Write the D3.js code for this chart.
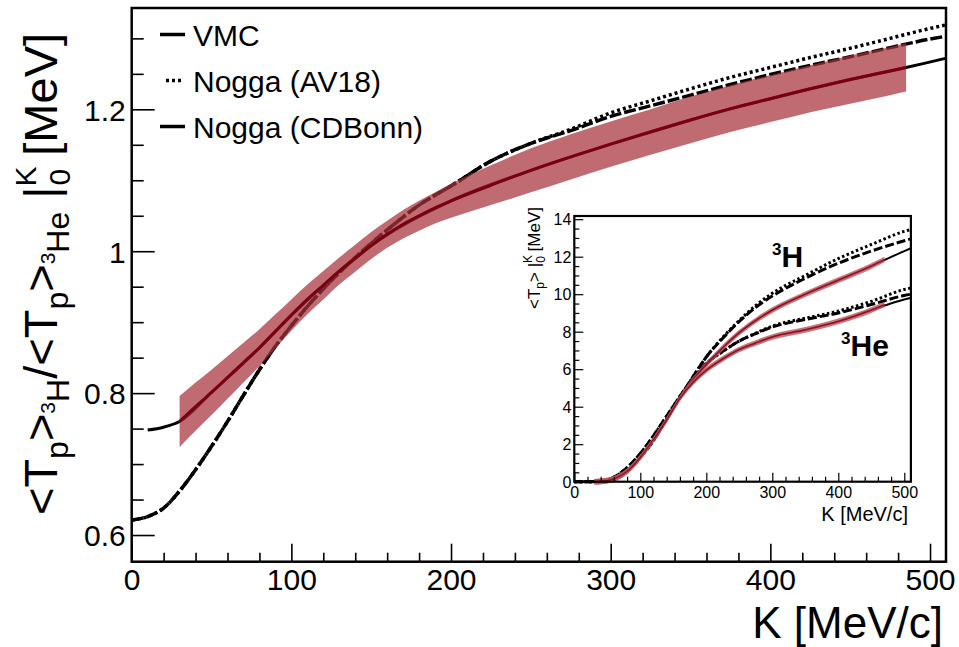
<!DOCTYPE html>
<html><head><meta charset="utf-8">
<script src="https://cdn.jsdelivr.net/npm/d3@7"></script>
<style>
body{margin:0;background:#fff}
svg{display:block}
text{font-family:"Liberation Sans",Arial,Helvetica,sans-serif;fill:#000}
</style>
</head><body>
<svg id="c" width="959" height="647"></svg>
<script>
// ---------------- DATA (main panel: ratio 3H / 3He) ----------------
const kNogga      = [0,10,20,30,40,50,60,70,80,90,100,110,120,140,160,180,200,225,250,275,300,325,350,375,400,425,450,475,500,510];
const ratioCDBonn = [0.621,0.626,0.638,0.662,0.692,0.725,0.760,0.797,0.833,0.866,0.895,0.922,0.947,0.991,1.030,1.065,1.092,1.127,1.152,1.170,1.190,1.205,1.220,1.235,1.249,1.262,1.274,1.287,1.299,1.303];
const ratioAV18   = [0.621,0.626,0.638,0.662,0.692,0.725,0.760,0.797,0.833,0.866,0.895,0.922,0.947,0.991,1.030,1.065,1.092,1.127,1.152,1.172,1.195,1.212,1.229,1.245,1.259,1.273,1.286,1.300,1.314,1.319];

const kVMC     = [10,20,30,50,80,100,120,150,200,250,300,350,400,450,485,495,510];
const ratioVMC = [0.748,0.752,0.760,0.801,0.864,0.910,0.952,1.008,1.071,1.114,1.151,1.185,1.215,1.242,1.259,1.264,1.272];

const kData     = [30,40,50,60,70,80,90,100,110,120,130,140,150,160,170,180,190,200,225,250,275,300,325,350,375,400,425,450,475,485];
const ratioData = [0.760,0.781,0.801,0.822,0.843,0.864,0.887,0.910,0.932,0.952,0.972,0.990,1.008,1.024,1.038,1.050,1.061,1.071,1.093,1.114,1.133,1.151,1.168,1.185,1.201,1.215,1.229,1.242,1.254,1.259];
const ratioErr  = [0.036,0.034,0.032,0.030,0.028,0.026,0.024,0.022,0.021,0.020,0.019,0.019,0.019,0.019,0.020,0.021,0.022,0.024,0.028,0.031,0.032,0.032,0.032,0.033,0.033,0.033,0.033,0.034,0.034,0.034];

const legendLabels = ["VMC","Nogga (AV18)","Nogga (CDBonn)"];
const xTicksMain = [0,100,200,300,400,500];
const yTicksMain = [0.6,0.8,1.0,1.2];

// ---------------- DATA (inset: <Tp> integrated up to K) ----------------
const kInset     = [0,20,40,50,60,80,100,120,140,160,180,200,225,250,275,300,350,400,450,500,510];
const h3CDBonn   = [0,0,0.02,0.07,0.18,0.60,1.30,2.20,3.35,4.50,5.60,6.65,7.65,8.55,9.30,9.90,10.85,11.65,12.30,12.85,12.95];
const h3AV18     = [0,0,0.02,0.07,0.18,0.60,1.30,2.20,3.35,4.50,5.60,6.65,7.70,8.60,9.40,10.05,11.00,11.90,12.65,13.35,13.45];
const he3CDBonn  = [0,0,0.03,0.10,0.24,0.75,1.50,2.45,3.50,4.55,5.50,6.30,6.95,7.50,7.90,8.25,8.65,9.00,9.45,9.93,10.00];
const he3AV18    = [0,0,0.03,0.10,0.24,0.75,1.50,2.45,3.50,4.55,5.50,6.30,6.95,7.50,7.92,8.30,8.72,9.10,9.62,10.25,10.33];
const h3VMC      = [0,0,0.02,0.06,0.16,0.56,1.30,2.25,3.30,4.45,5.45,6.25,7.15,7.95,8.60,9.15,10.00,10.75,11.50,12.30,12.45];
const he3VMC     = [0,0,0.02,0.06,0.15,0.55,1.30,2.25,3.30,4.45,5.30,5.95,6.55,7.05,7.40,7.72,8.10,8.55,9.15,9.72,9.80];

const kInsetData = [30,40,50,60,80,100,120,140,160,180,200,225,250,275,300,350,400,450,470];
const h3Data     = [0,0.02,0.06,0.16,0.56,1.30,2.25,3.30,4.45,5.45,6.25,7.15,7.95,8.60,9.15,10.00,10.75,11.50,11.85];
const he3Data    = [0,0.02,0.06,0.15,0.55,1.30,2.25,3.30,4.45,5.30,5.95,6.55,7.05,7.40,7.72,8.10,8.55,9.15,9.45];
const insetErr   = 0.15;
const xTicksInset = [0,100,200,300,400,500];
const yTicksInset = [0,2,4,6,8,10,12,14];

// ---------------- DRAWING ----------------
const svg = d3.select("#c");
const FONT = '"Liberation Sans",Arial,Helvetica,sans-serif';
const M = {l:131.7, r:946, t:8, b:561.7};
const x = d3.scaleLinear().domain([0,510]).range([M.l,M.r]);
const y = d3.scaleLinear().domain([0.5624,1.3428]).range([M.b,M.t]);

const zip = (ks, vs) => ks.map((k,i)=>({k, v:vs[i]}));
const line = (sx, sy) => d3.line().x(d=>sx(d.k)).y(d=>sy(d.v)).curve(d3.curveMonotoneX);

const gPlot = svg.append("g");
// Nogga curves
gPlot.append("path").datum(zip(kNogga, ratioCDBonn)).attr("d", line(x,y))
  .attr("fill","none").attr("stroke","#000").attr("stroke-width",3.5).attr("stroke-dasharray","12,3");
gPlot.append("path").datum(zip(kNogga, ratioAV18)).attr("d", line(x,y))
  .attr("fill","none").attr("stroke","#000").attr("stroke-width",3.5).attr("stroke-dasharray","3,3");
// VMC
gPlot.append("path").datum(zip(kVMC, ratioVMC)).attr("d", line(x,y))
  .attr("fill","none").attr("stroke","#000").attr("stroke-width",3);
// data band
const bandData = kData.map((k,i)=>({k, v:ratioData[i], e:ratioErr[i]}));
gPlot.append("path").datum(bandData)
  .attr("d", d3.area().x(d=>x(d.k)).y0(d=>y(d.v-d.e)).y1(d=>y(d.v+d.e)).curve(d3.curveMonotoneX))
  .attr("fill","#a8323b").attr("fill-opacity",0.72);
gPlot.append("path").datum(bandData).attr("d", line(x,y))
  .attr("fill","none").attr("stroke","#7a0010").attr("stroke-width",3);

// axes
function cleanAxis(g, fs){
  g.select(".domain").remove();
  g.selectAll(".tick line").attr("stroke","#000").attr("stroke-width",1.6);
  g.attr("font-family", FONT).attr("font-size", fs);
}
const gx = svg.append("g").attr("transform",`translate(0,${M.b})`)
  .call(d3.axisBottom(x).tickValues(xTicksMain).tickSizeInner(-18).tickSizeOuter(0).tickFormat(d3.format("d")));
cleanAxis(gx, 30);
gx.selectAll(".tick text").attr("y",28.5).attr("dy",0).attr("fill","#000");
const gxm = svg.append("g").attr("transform",`translate(0,${M.b})`)
  .call(d3.axisBottom(x).tickValues(d3.range(0,511,20).filter(v=>v%100)).tickSizeInner(-9).tickSizeOuter(0).tickFormat(""));
cleanAxis(gxm, 30);

const gy = svg.append("g").attr("transform",`translate(${M.l},0)`)
  .call(d3.axisLeft(y).tickValues(yTicksMain).tickSizeInner(-23).tickSizeOuter(0).tickFormat(d=>d===1?"1":d.toFixed(1)));
cleanAxis(gy, 30);
gy.selectAll(".tick text").attr("x",-6).attr("dy","0.36em").attr("fill","#000");
const gym = svg.append("g").attr("transform",`translate(${M.l},0)`)
  .call(d3.axisLeft(y).tickValues(d3.range(0.6,1.34,0.05).filter(v=>Math.abs(v*5-Math.round(v*5))>1e-6)).tickSizeInner(-12).tickSizeOuter(0).tickFormat(""));
cleanAxis(gym, 30);

// frame
svg.append("rect").attr("x",M.l).attr("y",M.t).attr("width",M.r-M.l).attr("height",M.b-M.t)
  .attr("fill","none").attr("stroke","#000").attr("stroke-width",2.5);

// axis titles
svg.append("text").attr("x",943).attr("y",638).attr("text-anchor","end")
  .style("font-size","44px").text("K [MeV/c]");

function richText(parent, segs){
  const t = parent.append("text");
  let cur = 0;
  segs.forEach(s=>{
    const ts = t.append("tspan").text(s.t).style("font-size", s.fs+"px");
    ts.attr("dy", (s.off - cur));
    if (s.dx) ts.attr("dx", s.dx);
    cur = s.off;
  });
  return t;
}
const F = 47;
const yTitle = svg.append("g").attr("transform","translate(57,274) rotate(-90)");
richText(yTitle, [
  {t:"<T", fs:F, off:0},
  {t:"p", fs:32, off:11},
  {t:">", fs:F, off:0},
  {t:"3", fs:21, off:-2},
  {t:"H", fs:32, off:12},
  {t:"/<T", fs:F, off:0},
  {t:"p", fs:32, off:11},
  {t:">", fs:F, off:0},
  {t:"3", fs:21, off:-2},
  {t:"He", fs:32, off:12},
  {t:" |", fs:F, off:0},
  {t:"K", fs:30, off:-21},
  {t:"0", fs:30, off:13, dx:-19},
  {t:" [MeV]", fs:F, off:0}
]).attr("text-anchor","middle");

// legend
const legendY = [45.5, 91.5, 137.5];
const legendDash = [null, "3,3", null];
const gLeg = svg.append("g");
legendLabels.forEach((lab,i)=>{
  gLeg.append("line").attr("x1", i===1?166:160).attr("x2", i===1?184:185)
    .attr("y1", legendY[i]-11).attr("y2", legendY[i]-11)
    .attr("stroke","#000").attr("stroke-width",3.5)
    .attr("stroke-dasharray", legendDash[i]);
  gLeg.append("text").attr("x",193).attr("y",legendY[i]).style("font-size","30px").text(lab);
});

// ---------------- INSET ----------------
const I = {l:574.3, r:910.9, t:216, b:481.7};
const xi = d3.scaleLinear().domain([0,510]).range([I.l,I.r]);
const yi = d3.scaleLinear().domain([0,14.17]).range([I.b,I.t]);
const gI = svg.append("g");
gI.append("rect").attr("x",I.l).attr("y",I.t).attr("width",I.r-I.l).attr("height",I.b-I.t).attr("fill","#fff");

[[h3CDBonn,"9,3"],[h3AV18,"2.5,2.5"],[he3CDBonn,"9,3"],[he3AV18,"2.5,2.5"]].forEach(([vals,dash])=>{
  gI.append("path").datum(zip(kInset, vals)).attr("d", line(xi,yi))
    .attr("fill","none").attr("stroke","#000").attr("stroke-width",3).attr("stroke-dasharray",dash);
});
[h3VMC, he3VMC].forEach(vals=>{
  gI.append("path").datum(zip(kInset, vals)).attr("d", line(xi,yi))
    .attr("fill","none").attr("stroke","#000").attr("stroke-width",2);
});
[h3Data, he3Data].forEach(vals=>{
  const bd = kInsetData.map((k,i)=>({k, v:vals[i]}));
  gI.append("path").datum(bd)
    .attr("d", d3.area().x(d=>xi(d.k)).y0(d=>yi(d.v-insetErr)).y1(d=>yi(d.v+insetErr)).curve(d3.curveMonotoneX))
    .attr("fill","#c0505a").attr("fill-opacity",0.8);
  gI.append("path").datum(bd).attr("d", line(xi,yi))
    .attr("fill","none").attr("stroke","#8b1020").attr("stroke-width",1.2);
});

const gxi = svg.append("g").attr("transform",`translate(0,${I.b})`)
  .call(d3.axisBottom(xi).tickValues(xTicksInset).tickSizeInner(-9).tickSizeOuter(0).tickFormat(d3.format("d")));
cleanAxis(gxi, 16);
gxi.selectAll(".tick line").attr("stroke-width",1.2);
gxi.selectAll(".tick text").attr("y",16.5).attr("dy",0).attr("fill","#000");
const gxim = svg.append("g").attr("transform",`translate(0,${I.b})`)
  .call(d3.axisBottom(xi).tickValues(d3.range(0,511,20).filter(v=>v%100)).tickSizeInner(-5).tickSizeOuter(0).tickFormat(""));
cleanAxis(gxim, 16);
gxim.selectAll(".tick line").attr("stroke-width",1.2);
const gyi = svg.append("g").attr("transform",`translate(${I.l},0)`)
  .call(d3.axisLeft(yi).tickValues(yTicksInset).tickSizeInner(-9).tickSizeOuter(0).tickFormat(d3.format("d")));
cleanAxis(gyi, 16);
gyi.selectAll(".tick line").attr("stroke-width",1.2);
gyi.selectAll(".tick text").attr("x",-3).attr("dy","0.36em").attr("fill","#000");
const gyim = svg.append("g").attr("transform",`translate(${I.l},0)`)
  .call(d3.axisLeft(yi).tickValues(d3.range(0.5,14.1,0.5).filter(v=>v%2)).tickSizeInner(-5).tickSizeOuter(0).tickFormat(""));
cleanAxis(gyim, 16);
gyim.selectAll(".tick line").attr("stroke-width",1.2);

gI.append("rect").attr("x",I.l).attr("y",I.t).attr("width",I.r-I.l).attr("height",I.b-I.t)
  .attr("fill","none").attr("stroke","#000").attr("stroke-width",2.2);

svg.append("text").attr("x",908).attr("y",521).attr("text-anchor","end").style("font-size","20px").text("K [MeV/c]");
const yTitleI = svg.append("g").attr("transform","translate(540,258) rotate(-90)");
richText(yTitleI, [
  {t:"<T", fs:17, off:0},
  {t:"p", fs:12, off:4},
  {t:"> |", fs:17, off:0},
  {t:"K", fs:12, off:-8},
  {t:"0", fs:12, off:5, dx:-8},
  {t:" [MeV]", fs:17, off:0}
]).attr("text-anchor","middle");

// nucleus labels
function nucleus(xp, yp, sup, main){
  const t = svg.append("text").attr("x",xp).attr("y",yp).style("font-weight","bold");
  t.append("tspan").text(sup).style("font-size","17px").attr("dy",-12);
  t.append("tspan").text(main).style("font-size","30px").attr("dy",12);
}
nucleus(772, 267, "3", "H");
nucleus(841, 356, "3", "He");
</script>
</body></html>
